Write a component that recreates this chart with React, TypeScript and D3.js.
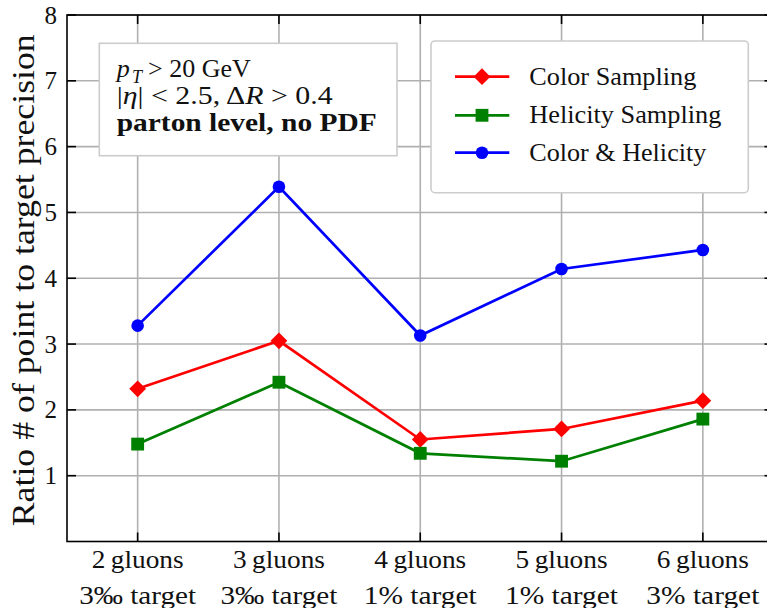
import * as d3 from "d3";
import React from "react";

const categories = ["2\u2009gluons", "3\u2009gluons", "4\u2009gluons", "5\u2009gluons", "6\u2009gluons"];
const targets = ["3\u2030 target", "3\u2030 target", "1% target", "1% target", "3% target"];
const colorSampling = [2.32, 3.05, 1.55, 1.71, 2.14];
const helicitySampling = [1.48, 2.42, 1.34, 1.22, 1.86];
const colorHelicity = [3.28, 5.39, 3.13, 4.14, 4.43];
const yTicks = [1, 2, 3, 4, 5, 6, 7, 8];

const W = 767;
const H = 608;
const margin = { left: 67, top: 15, right: 773.5, bottom: 541.5 };
const FONT = "Liberation Serif, DejaVu Serif, Times New Roman, serif";

const series = [
  { name: "Color Sampling", values: colorSampling, color: "#ff0000", shape: "diamond", len: 167 },
  { name: "Helicity Sampling", values: helicitySampling, color: "#008000", shape: "square", len: 192 },
  { name: "Color & Helicity", values: colorHelicity, color: "#0000ff", shape: "circle", len: 177 },
];

function Marker({ x, y, shape, color }) {
  if (shape === "diamond") {
    const p = d3.symbol(d3.symbolSquare, 140)();
    return <path d={p} fill={color} transform={`translate(${x},${y}) rotate(45)`} />;
  }
  if (shape === "square") {
    const p = d3.symbol(d3.symbolSquare, 165)();
    return <path d={p} fill={color} transform={`translate(${x},${y})`} />;
  }
  const p = d3.symbol(d3.symbolCircle, 125)();
  return <path d={p} fill={color} transform={`translate(${x},${y})`} />;
}

export default function App() {
  const x = d3.scaleLinear().domain([-0.5, 4.5]).range([margin.left, margin.right]);
  const y = d3.scaleLinear().domain([0, 8]).range([margin.bottom, margin.top]);
  const line = d3
    .line<number>()
    .x((_, i) => x(i))
    .y((d) => y(d));

  const legendRows = [76.7, 115.3, 152.7];
  const txt = { fontFamily: FONT, fill: "#111" };

  return (
    <svg width={W} height={H} style={{ position: "absolute", left: 0, top: 0, fontFamily: FONT }}>
      <rect x={0} y={0} width={W} height={H} fill="#fff" />
      {/* grid */}
      {yTicks.map((t) => (
        <line key={"gy" + t} x1={margin.left} x2={margin.right} y1={y(t)} y2={y(t)} stroke="#b0b0b0" strokeWidth={1.6} />
      ))}
      {categories.map((c, i) => (
        <line key={"gx" + i} x1={x(i)} x2={x(i)} y1={margin.top} y2={margin.bottom} stroke="#b0b0b0" strokeWidth={1.6} />
      ))}
      {/* ticks inward */}
      {yTicks.map((t) => (
        <g key={"ty" + t}>
          <line x1={margin.left} x2={margin.left + 9} y1={y(t)} y2={y(t)} stroke="#000" strokeWidth={1.6} />
          <line x1={margin.right - 9} x2={margin.right} y1={y(t)} y2={y(t)} stroke="#000" strokeWidth={1.6} />
          <text x={57} y={y(t) + 8.5} textAnchor="end" fontSize={25} style={txt}>
            {t}
          </text>
        </g>
      ))}
      {categories.map((c, i) => (
        <g key={"tx" + i}>
          <line x1={x(i)} x2={x(i)} y1={margin.bottom} y2={margin.bottom - 9} stroke="#000" strokeWidth={1.6} />
          <line x1={x(i)} x2={x(i)} y1={margin.top} y2={margin.top + 9} stroke="#000" strokeWidth={1.6} />
          <text x={x(i)} y={568} textAnchor="middle" fontSize={25} style={txt} textLength={92} lengthAdjust="spacingAndGlyphs">
            {c}
          </text>
          <text x={x(i)} y={604} textAnchor="middle" fontSize={25} style={txt} textLength={i < 2 ? 117 : 113} lengthAdjust="spacingAndGlyphs">
            {targets[i]}
          </text>
        </g>
      ))}
      {/* series */}
      {series.map((s) => (
        <g key={s.name}>
          <path d={line(s.values)} fill="none" stroke={s.color} strokeWidth={2.7} />
          {s.values.map((v, i) => (
            <Marker key={i} x={x(i)} y={y(v)} shape={s.shape} color={s.color} />
          ))}
        </g>
      ))}
      {/* spines */}
      <rect
        x={margin.left}
        y={margin.top}
        width={margin.right - margin.left}
        height={margin.bottom - margin.top}
        fill="none"
        stroke="#000"
        strokeWidth={1.6}
      />
      {/* y label */}
      <text
        transform={`translate(34,${(margin.top + margin.bottom) / 2 + 2}) rotate(-90)`}
        textAnchor="middle"
        fontSize={32}
        textLength={492}
        lengthAdjust="spacingAndGlyphs"
        style={txt}
      >
        Ratio # of point to target precision
      </text>
      {/* annotation box */}
      <rect x={99.3} y={43.3} width={297.7} height={112.4} fill="#fff" stroke="#cccccc" strokeWidth={1.6} />
      <text x={116.7} y={77} fontSize={26} fontStyle="italic" style={txt}>
        p
      </text>
      <text x={132} y={83} fontSize={18} fontStyle="italic" style={txt}>
        T
      </text>
      <text x={148} y={77} fontSize={26} style={txt}>
        &gt; 20 GeV
      </text>
      <text x={116.7} y={104} fontSize={26} style={txt} textLength={216} lengthAdjust="spacingAndGlyphs">
        |<tspan fontStyle="italic">η</tspan>| &lt; 2.5,  Δ<tspan fontStyle="italic">R</tspan> &gt; 0.4
      </text>
      <text x={116.7} y={131} fontSize={26} fontWeight="bold" style={txt} textLength={260} lengthAdjust="spacingAndGlyphs">
        parton level,  no PDF
      </text>
      {/* legend */}
      <rect x={431} y={41} width={317.3} height={151.7} rx={4} fill="#fff" stroke="#cccccc" strokeWidth={1.6} />
      {series.map((s, i) => (
        <g key={"lg" + i}>
          <line x1={455} x2={509.3} y1={legendRows[i]} y2={legendRows[i]} stroke={s.color} strokeWidth={2.7} />
          <Marker x={482} y={legendRows[i]} shape={s.shape} color={s.color} />
          <text x={529.3} y={legendRows[i] + 8} fontSize={26} style={txt} textLength={s.len} lengthAdjust="spacingAndGlyphs">
            {s.name}
          </text>
        </g>
      ))}
    </svg>
  );
}
